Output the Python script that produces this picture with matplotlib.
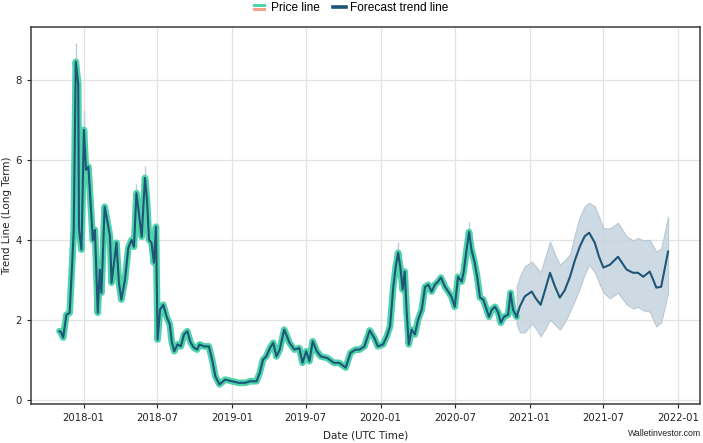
import matplotlib
matplotlib.use("Agg")
import matplotlib.pyplot as plt
from matplotlib.legend_handler import HandlerBase
from matplotlib.patches import Rectangle
from matplotlib.lines import Line2D
import pandas as pd

# ---------------- data ----------------
price_dates = [
    "2017-11-03", "2017-11-07", "2017-11-12", "2017-11-20", "2017-11-28", "2017-12-05",
    "2017-12-08", "2017-12-13", "2017-12-19", "2017-12-21", "2017-12-27", "2018-01-02",
    "2018-01-07", "2018-01-13", "2018-01-17", "2018-01-24", "2018-01-29", "2018-02-05",
    "2018-02-10", "2018-02-14", "2018-02-22", "2018-03-03", "2018-03-07", "2018-03-11",
    "2018-03-17", "2018-03-23", "2018-03-29", "2018-04-04", "2018-04-13", "2018-04-21",
    "2018-04-29", "2018-05-05", "2018-05-11", "2018-05-18", "2018-05-24", "2018-06-01",
    "2018-06-06", "2018-06-11", "2018-06-17", "2018-06-23", "2018-06-28", "2018-07-02",
    "2018-07-08", "2018-07-16", "2018-07-24", "2018-08-01", "2018-08-06", "2018-08-12",
    "2018-08-20", "2018-08-28", "2018-09-05", "2018-09-13", "2018-09-21", "2018-09-29",
    "2018-10-07", "2018-10-13", "2018-10-24", "2018-11-05", "2018-11-13", "2018-11-21",
    "2018-12-01", "2018-12-15", "2019-01-01", "2019-01-17", "2019-02-02", "2019-02-14",
    "2019-03-02", "2019-03-10", "2019-03-18", "2019-03-26", "2019-04-04", "2019-04-12",
    "2019-04-20", "2019-04-28", "2019-05-09", "2019-05-14", "2019-05-22", "2019-06-03",
    "2019-06-15", "2019-06-23", "2019-07-02", "2019-07-10", "2019-07-18", "2019-07-28",
    "2019-08-07", "2019-08-23", "2019-09-08", "2019-09-21", "2019-10-07", "2019-10-19",
    "2019-10-31", "2019-11-10", "2019-11-22", "2019-12-05", "2019-12-17", "2019-12-25",
    "2020-01-07", "2020-01-16", "2020-01-24", "2020-02-01", "2020-02-07", "2020-02-13",
    "2020-02-19", "2020-02-24", "2020-02-29", "2020-03-05", "2020-03-10", "2020-03-17",
    "2020-03-25", "2020-04-02", "2020-04-11", "2020-04-19", "2020-04-27", "2020-05-05",
    "2020-05-13", "2020-05-21", "2020-05-28", "2020-06-07", "2020-06-15", "2020-06-23",
    "2020-07-01", "2020-07-09", "2020-07-18", "2020-07-23", "2020-07-30", "2020-08-05",
    "2020-08-11", "2020-08-19", "2020-08-25", "2020-09-01", "2020-09-09", "2020-09-17",
    "2020-09-23", "2020-09-30", "2020-10-08", "2020-10-16", "2020-10-22", "2020-10-30",
    "2020-11-09", "2020-11-15", "2020-11-21", "2020-11-30",
]
price_values = [
    1.73, 1.70, 1.57, 2.14, 2.19, 3.60,
    4.26, 8.46, 7.90, 4.26, 3.77, 6.76,
    5.76, 5.84, 5.18, 4.00, 4.26, 2.19,
    3.27, 2.69, 4.84, 4.34, 4.10, 2.94,
    3.44, 3.94, 2.94, 2.52, 3.02, 3.81,
    4.01, 3.84, 5.18, 4.59, 4.09, 5.56,
    5.01, 4.01, 3.94, 3.44, 4.34, 1.52,
    2.27, 2.39, 2.10, 1.90, 1.45, 1.23,
    1.40, 1.35, 1.65, 1.73, 1.45, 1.32,
    1.27, 1.40, 1.35, 1.35, 1.02, 0.60,
    0.40, 0.52, 0.48, 0.44, 0.44, 0.48,
    0.48, 0.69, 1.02, 1.10, 1.31, 1.44,
    1.10, 1.27, 1.77, 1.65, 1.44, 1.27,
    1.31, 0.94, 1.23, 0.98, 1.48, 1.23,
    1.10, 1.06, 0.94, 0.94, 0.82, 1.19,
    1.27, 1.27, 1.35, 1.75, 1.55, 1.35,
    1.40, 1.60, 1.85, 2.84, 3.34, 3.69,
    3.27, 2.77, 3.22, 2.19, 1.40, 1.77,
    1.65, 2.02, 2.27, 2.84, 2.89, 2.72,
    2.89, 2.97, 3.07, 2.84, 2.72, 2.59,
    2.34, 3.09, 2.97, 3.22, 3.77, 4.21,
    3.77, 3.44, 3.09, 2.57, 2.52, 2.27,
    2.09, 2.27, 2.34, 2.19, 1.94, 2.09,
    2.14, 2.69, 2.27, 2.09,
]

# thin high-low whiskers visible above a few price spikes
spike_dates = ["2017-12-13", "2018-01-02", "2018-05-11", "2018-06-01", "2020-02-13", "2020-08-05"]
spike_low = [8.46, 6.76, 5.18, 5.56, 3.69, 4.21]
spike_high = [8.93, 7.25, 5.40, 5.85, 3.95, 4.45]

forecast_dates = [
    "2020-11-30", "2020-12-08", "2020-12-20", "2021-01-06", "2021-01-16", "2021-01-28",
    "2021-02-09", "2021-02-20", "2021-03-04", "2021-03-16", "2021-03-28", "2021-04-10",
    "2021-04-22", "2021-05-04", "2021-05-16", "2021-05-27", "2021-06-10", "2021-06-20",
    "2021-07-01", "2021-07-17", "2021-08-06", "2021-08-27", "2021-09-12", "2021-09-24",
    "2021-10-07", "2021-10-23", "2021-11-01", "2021-11-08", "2021-11-20", "2021-12-07",
]
forecast_values = [
    2.09, 2.35, 2.60, 2.72, 2.55, 2.39,
    2.80, 3.19, 2.85, 2.57, 2.75, 3.09,
    3.50, 3.84, 4.10, 4.19, 3.94, 3.60,
    3.32, 3.39, 3.59, 3.27, 3.19, 3.19,
    3.09, 3.22, 3.00, 2.82, 2.84, 3.72,
]
forecast_upper = [
    2.85, 3.10, 3.35, 3.47, 3.35, 3.20,
    3.60, 3.97, 3.65, 3.39, 3.50, 3.65,
    4.15, 4.59, 4.85, 4.94, 4.85, 4.60,
    4.30, 4.30, 4.44, 4.10, 4.00, 4.06,
    4.00, 4.01, 3.85, 3.72, 3.80, 4.59,
]
forecast_lower = [
    1.90, 1.70, 1.70, 1.92, 1.80, 1.60,
    1.80, 2.02, 1.90, 1.77, 1.95, 2.22,
    2.50, 2.80, 3.15, 3.39, 3.20, 2.95,
    2.70, 2.55, 2.69, 2.40, 2.30, 2.34,
    2.25, 2.22, 2.00, 1.85, 1.95, 2.69,
]

x_tick_labels = ["2018-01", "2018-07", "2019-01", "2019-07", "2020-01",
                 "2020-07", "2021-01", "2021-07", "2022-01"]
y_ticks = [0, 2, 4, 6, 8]

# ---------------- style ----------------
TEAL = "#4fd3ab"
DARK = "#1d5677"
SALMON = "#fb9f87"
BAND = "#c6d4de"
GRID = "#e3e3e3"
LEGEND_FONT = ["Liberation Sans Narrow", "Liberation Sans"]

fig = plt.figure(figsize=(7.03, 4.43), dpi=100)
ax = fig.add_axes([0.0435, 0.087, 0.952, 0.852])

pdates = pd.to_datetime(price_dates)
fdates = pd.to_datetime(forecast_dates)

ax.fill_between(fdates, forecast_lower, forecast_upper, color=BAND, alpha=0.85,
                edgecolor="#b3c4d0", linewidth=0.8, zorder=2)
ax.vlines(pd.to_datetime(spike_dates), spike_low, spike_high, color="#b9cddd",
          lw=1.0, zorder=2.5)
ax.plot(pdates, price_values, color=TEAL, lw=4.8, solid_joinstyle="round",
        solid_capstyle="round", zorder=3)
ax.plot(pdates, price_values, color=DARK, lw=1.5, zorder=4)
ax.plot(fdates, forecast_values, color=DARK, lw=1.5, zorder=4,
        solid_joinstyle="round")

ax.set_xlim(pd.Timestamp("2017-08-24"), pd.Timestamp("2022-02-23"))
ax.set_ylim(-0.1, 9.33)
ax.set_xticks(pd.to_datetime([s + "-01" for s in x_tick_labels]))
ax.set_xticklabels(x_tick_labels)
ax.set_yticks(y_ticks)
ax.tick_params(labelsize=7.3, length=3, width=0.8, colors="#222222")
ax.grid(True, color=GRID, lw=0.9)
ax.set_axisbelow(True)
for s in ax.spines.values():
    s.set_color("#3a3a3a")
    s.set_linewidth(1.1)

ax.set_xlabel("Date (UTC Time)", fontsize=7.5, color="#222222", labelpad=5)
ax.set_ylabel("Trend Line (Long Term)", fontsize=7.5, color="#222222")
ax.yaxis.set_label_coords(-0.027, 0.5)


class StackHandler(HandlerBase):
    def create_artists(self, legend, orig_handle, xdescent, ydescent, width, height,
                       fontsize, trans):
        h = height * 0.28
        r1 = Rectangle((-xdescent, -ydescent + height * 0.55), width, h,
                       facecolor=TEAL, edgecolor="none", transform=trans)
        r2 = Rectangle((-xdescent, -ydescent + height * 0.08), width, h,
                       facecolor=SALMON, edgecolor="none", transform=trans)
        return [r1, r2]


price_handle = Rectangle((0, 0), 1, 1)
fc_handle = Line2D([], [], color=DARK, lw=2.6)
fig.legend([price_handle, fc_handle], ["Price line", "Forecast trend line"],
           handler_map={Rectangle: StackHandler()},
           loc="center", bbox_to_anchor=(0.499, 0.981), ncol=2, frameon=False,
           prop={"family": LEGEND_FONT, "size": 8.6},
           handlelength=1.1, handletextpad=0.35, columnspacing=1.1)

fig.text(0.997, 0.012, "Walletinvestor.com", ha="right", va="bottom", fontsize=6.3,
         family=LEGEND_FONT, color="#222222")

fig.savefig("out.png", dpi=100)
